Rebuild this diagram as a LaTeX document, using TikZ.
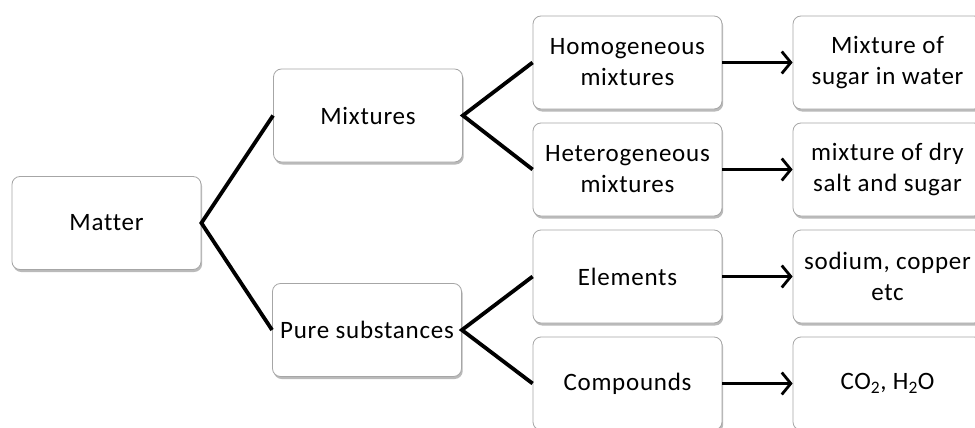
\documentclass[tikz,border=0pt]{standalone}
\usepackage{fontspec}
\setmainfont[Ligatures={NoCommon},LetterSpace=3]{Carlito}
\usetikzlibrary{arrows.meta,shadows}
\begin{document}
\begin{tikzpicture}[x=1pt,y=-1pt,
  box/.style={draw=black!35, line width=0.8pt, fill=white, rounded corners=8pt,
    minimum width=189pt, minimum height=93pt, inner sep=1pt, align=center,
    font=\fontsize{25}{31}\selectfont,
    drop shadow={shadow xshift=1.2pt, shadow yshift=-2.5pt, fill=black!45, opacity=0.6}},
  tree/.style={line width=3.8pt},
  arr/.style={line width=2.8pt, -{Straight Barb[length=9pt,width=22pt,line width=2.8pt]}}]
\useasboundingbox (0,0) rectangle (975,428);
\clip (0,0) rectangle (975,428);
\fill[white] (0,0) rectangle (975,428);
\node[box] (matter) at (106.5,223) {Matter};
\node[box] (mix) at (368,115.5) {Mixtures};
\node[box] (pure) at (367,330) {Pure substances};
\node[box] (homo) at (627.5,62.5) {Homogeneous\\mixtures};
\node[box] (hetero) at (627.5,169.5) {Heterogeneous\\mixtures};
\node[box] (elem) at (627.5,276.5) {Elements};
\node[box] (comp) at (627.5,383.5) {Compounds};
\node[box] (ex1) at (887.5,62.5) {Mixture of\\sugar in water};
\node[box] (ex2) at (887.5,169.5) {mixture of dry\\salt and sugar};
\node[box] (ex3) at (887.5,276.5) {sodium, copper\\etc};
\node[box] (ex4) at (887.5,383.5) {CO\textsubscript{2}, H\textsubscript{2}O};
\draw[tree] (mix.west) -- (matter.east) -- (pure.west);
\draw[tree] (homo.west) -- (mix.east) -- (hetero.west);
\draw[tree] (elem.west) -- (pure.east) -- (comp.west);
\draw[arr] (homo.east) -- (ex1.west);
\draw[arr] (hetero.east) -- (ex2.west);
\draw[arr] (elem.east) -- (ex3.west);
\draw[arr] (comp.east) -- (ex4.west);
\end{tikzpicture}
\end{document}
